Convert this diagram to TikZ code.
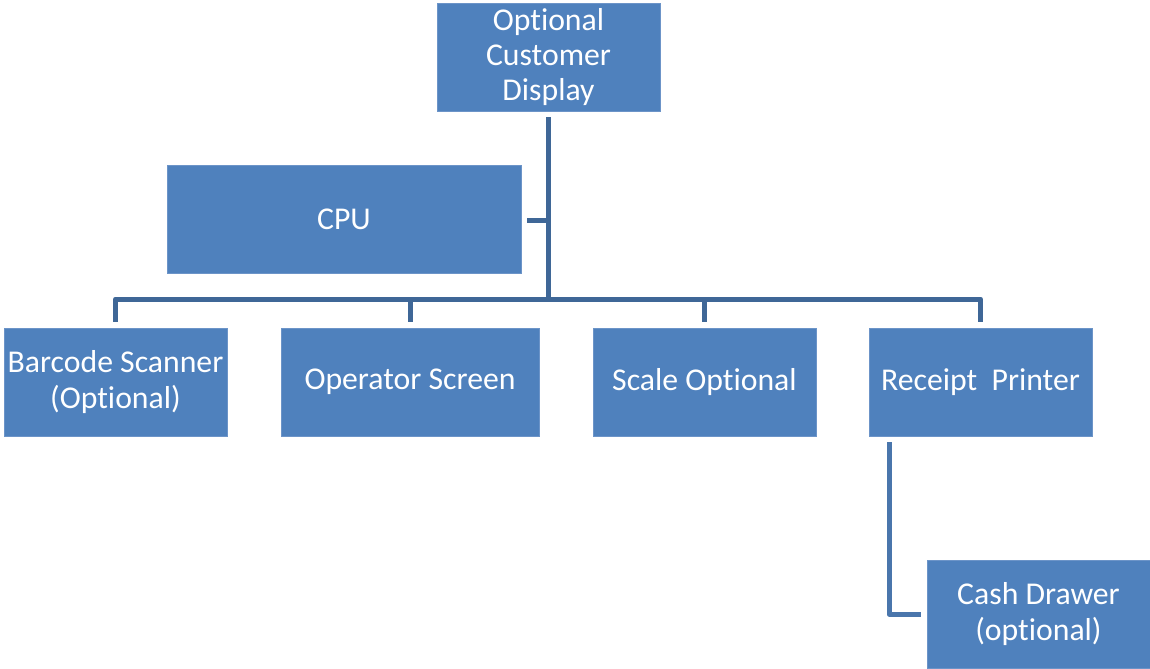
\documentclass[tikz,border=0pt]{standalone}
\usepackage{fontspec}
\setmainfont[Ligatures=NoCommon]{Carlito}
\definecolor{boxfill}{HTML}{4F81BD}
\definecolor{boxedge}{HTML}{6C94C8}
\definecolor{linedark}{HTML}{3F6797}
\definecolor{linelight}{HTML}{4A76AC}
\begin{document}
\begin{tikzpicture}[x=0.75pt,y=-0.75pt,
  box/.style={draw=boxedge,line width=0.6pt,fill=boxfill,text=white,inner sep=0pt,
    minimum width=#1*0.75pt,minimum height=108*0.75pt,align=center,
    font=\fontsize{23.8pt}{26.3pt}\selectfont},
  box/.default=223,
  conn/.style={draw=linedark,line width=3.75pt},
  connl/.style={draw=linelight,line width=3.75pt}]
\useasboundingbox (0,0) rectangle (1150,668);
\node[box] (disp) at (548.5,57) {Optional\\Customer\\Display};
\node[box=354] (cpu) at (344,219) {CPU};
\node[box] (bar) at (115.5,382) {Barcode Scanner\\(Optional)};
\node[box=258] (op) at (410,382) {Operator Screen};
\node[box] (scale) at (704.5,382) {Scale Optional};
\node[box] (rec) at (980.5,382) {Receipt\ \ Printer};
\node[box] (cash) at (1038.5,614) {Cash Drawer\\(optional)};
\coordinate (hub) at (548,299);
\coordinate (cpuj) at (548,220);
\draw[conn] ([yshift=-4.5pt]disp.south -| hub) -- (hub);
\draw[conn] ([xshift=4.5pt]cpu.east |- cpuj) -- (cpuj);
\draw[conn,line join=round] ([yshift=4.5pt]bar.north) -- (bar.north |- hub) -- (rec.north |- hub) -- ([yshift=4.5pt]rec.north);
\draw[conn] (op.north |- hub) -- ([yshift=4.5pt]op.north);
\draw[conn] (scale.north |- hub) -- ([yshift=4.5pt]scale.north);
\coordinate (recj) at (889,614);
\draw[connl,line join=round] ([yshift=-4.5pt]rec.south -| recj) -- (recj) -- ([xshift=-4.5pt]cash.west);
\end{tikzpicture}
\end{document}
